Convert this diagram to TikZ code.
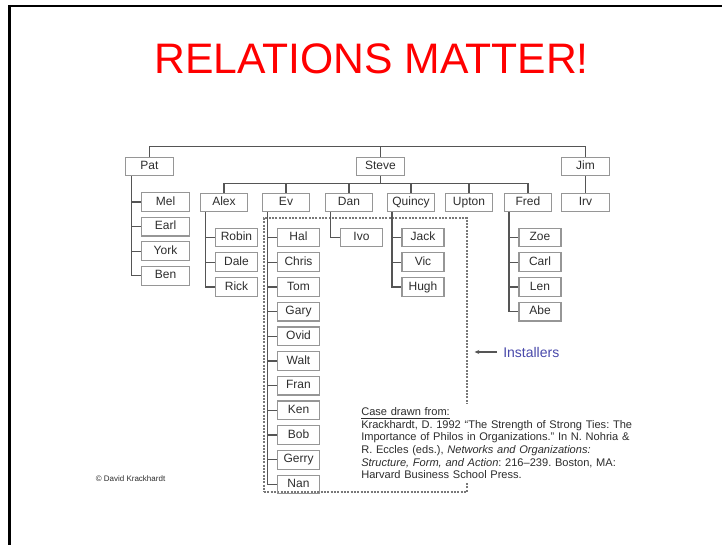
\documentclass[tikz,border=0pt]{standalone}
\usepackage{fontspec}
\setmainfont{Liberation Sans}
\usepackage{xcolor}
\usetikzlibrary{arrows.meta}
\frenchspacing

\definecolor{boxline}{RGB}{150,150,150}
\definecolor{wirecol}{RGB}{85,85,85}
\definecolor{dashcol}{RGB}{120,120,120}
\definecolor{ink}{RGB}{45,45,45}
\definecolor{crewblue}{RGB}{72,72,170}

\tikzset{
  topbox/.style={draw=boxline, line width=0.9pt, minimum width=35.5pt, minimum height=14pt,
    inner sep=0pt, text height=6.5pt, text depth=1.8pt, text=ink, font=\fontsize{9}{10}\selectfont},
  subbox/.style={topbox, minimum width=31.5pt},
  wire/.style={draw=wirecol, line width=1pt},
}

\begin{document}
\begin{tikzpicture}[x=0.75pt,y=0.75pt,yscale=-1,xscale=1]
  \useasboundingbox (0,0) rectangle (722,545);

  %Frame of the slide
  \draw [line width=1.9pt] (9.5,545) -- (9.5,6) -- (722,6) ;

  % Title
  \node [text=red, font=\fontsize{32}{38}\selectfont] (title) at (371.5,59) {RELATIONS MATTER!};

  %Shape: Installers box
  \node [draw=dashcol, line width=0.9pt, dash pattern=on 1.6pt off 0.9pt, minimum width=152.25pt,
    minimum height=205.5pt, inner sep=0pt] (crew) at (365.5,355) {};

  % Top level
  \node [topbox] (Pat) at (149.5,166.5) {Pat};
  \node [topbox] (Steve) at (380.5,166.5) {Steve};
  \node [topbox] (Jim) at (585.5,166.5) {Jim};

  % Second level
  \node [topbox] (Alex) at (224,202.5) {Alex};
  \node [topbox] (Ev) at (286,202.5) {Ev};
  \node [topbox] (Dan) at (349,202.5) {Dan};
  \node [topbox] (Quincy) at (411,202.5) {Quincy};
  \node [topbox] (Upton) at (469,202.5) {Upton};
  \node [topbox] (Fred) at (528,202.5) {Fred};
  \node [topbox] (Irv) at (585.5,202.5) {Irv};

  % Pat's group
  \node [topbox] (Mel) at (165.5,202) {Mel};
  \node [topbox] (Earl) at (165.5,226.6) {Earl};
  \node [topbox] (York) at (165.5,251.2) {York};
  \node [topbox] (Ben) at (165.5,275.8) {Ben};

  % Alex's group
  \node [subbox] (Robin) at (236.5,237.5) {Robin};
  \node [subbox] (Dale) at (236.5,262.2) {Dale};
  \node [subbox] (Rick) at (236.5,286.9) {Rick};

  % Ev's group
  \node [subbox] (Hal) at (298.5,237.5) {Hal};
  \node [subbox] (Chris) at (298.5,262.2) {Chris};
  \node [subbox] (Tom) at (298.5,286.9) {Tom};
  \node [subbox] (Gary) at (298.5,311.6) {Gary};
  \node [subbox] (Ovid) at (298.5,336.3) {Ovid};
  \node [subbox] (Walt) at (298.5,361) {Walt};
  \node [subbox] (Fran) at (298.5,385.7) {Fran};
  \node [subbox] (Ken) at (298.5,410.4) {Ken};
  \node [subbox] (Bob) at (298.5,435.1) {Bob};
  \node [subbox] (Gerry) at (298.5,459.8) {Gerry};
  \node [subbox] (Nan) at (298.5,484.5) {Nan};

  % Dan's group
  \node [subbox] (Ivo) at (361.5,237.5) {Ivo};

  % Quincy's group
  \node [subbox] (Jack) at (423,237.5) {Jack};
  \node [subbox] (Vic) at (423,262.2) {Vic};
  \node [subbox] (Hugh) at (423,286.9) {Hugh};

  % Fred's group
  \node [subbox] (Zoe) at (540,237.5) {Zoe};
  \node [subbox] (Carl) at (540,262.2) {Carl};
  \node [subbox] (Len) at (540,286.9) {Len};
  \node [subbox] (Abe) at (540,311.6) {Abe};

  %Lines: top bus
  \draw [wire] (Pat.north) -- ++(0,-10) -| (Jim.north) ;
  \draw [wire] (Steve.north) -- ++(0,-10) ;
  \draw [wire] (Jim) -- (Irv) ;
  %Lines: Steve's bus
  \draw [wire] (Alex.north) -- ++(0,-9) -| (Fred.north) ;
  \draw [wire] (Steve.south) -- ++(0,8) ;
  \foreach \n in {Ev,Dan,Quincy,Upton} \draw [wire] (\n.north) -- ++(0,-9) ;

  %Lines: trunks down to each group
  \foreach \n in {Mel,Earl,York,Ben} \draw [wire] ([xshift=4.5pt]Pat.south west) |- (\n.west) ;
  \foreach \n in {Robin,Dale,Rick} \draw [wire] ([xshift=4.5pt]Alex.south west) |- (\n.west) ;
  \foreach \n in {Hal,Chris,Tom,Gary,Ovid,Walt,Fran,Ken,Bob,Gerry,Nan} \draw [wire] ([xshift=4.5pt]Ev.south west) |- (\n.west) ;
  \draw [wire] ([xshift=4.5pt]Dan.south west) |- (Ivo.west) ;
  \foreach \n in {Jack,Vic,Hugh} \draw [wire] ([xshift=4pt]Quincy.south west) |- (\n.west) ;
  \foreach \n in {Zoe,Carl,Len,Abe} \draw [wire] ([xshift=4pt]Fred.south west) |- (\n.west) ;

  % Text Node: Installers
  \node [anchor=west, inner sep=0pt, text=crewblue, font=\fontsize{10.5}{12}\selectfont] (installers) at (503,352) {Installers};
  \draw [wire, line width=0.8pt, -{Stealth[length=3.5pt,width=3pt]}, shorten >=5.25pt]
    ([xshift=-4.5pt]installers.west) -- (crew.east |- installers.west) ;

  % Text Node: source
  \node [anchor=north west, fill=white, inner xsep=1.5pt, inner ysep=3pt, text width=215pt, align=left,
    text=ink, font=\fontsize{8.3}{9.4}\selectfont] (source) at (359,403.6) {\underline{Case drawn from:}\\
    Krackhardt, D. 1992 “The Strength of Strong Ties: The\\
    Importance of Philos in Organizations.” In N. Nohria \&\\
    R. Eccles (eds.), \textit{Networks and Organizations:}\\
    \textit{Structure, Form, and Action}: 216–239. Boston, MA:\\
    Harvard Business School Press.};

  % Text Node: credit
  \node [text=ink, font=\fontsize{6}{7}\selectfont] (credit) at (130.5,479) {\textcopyright{} David Krackhardt};

\end{tikzpicture}
\end{document}
